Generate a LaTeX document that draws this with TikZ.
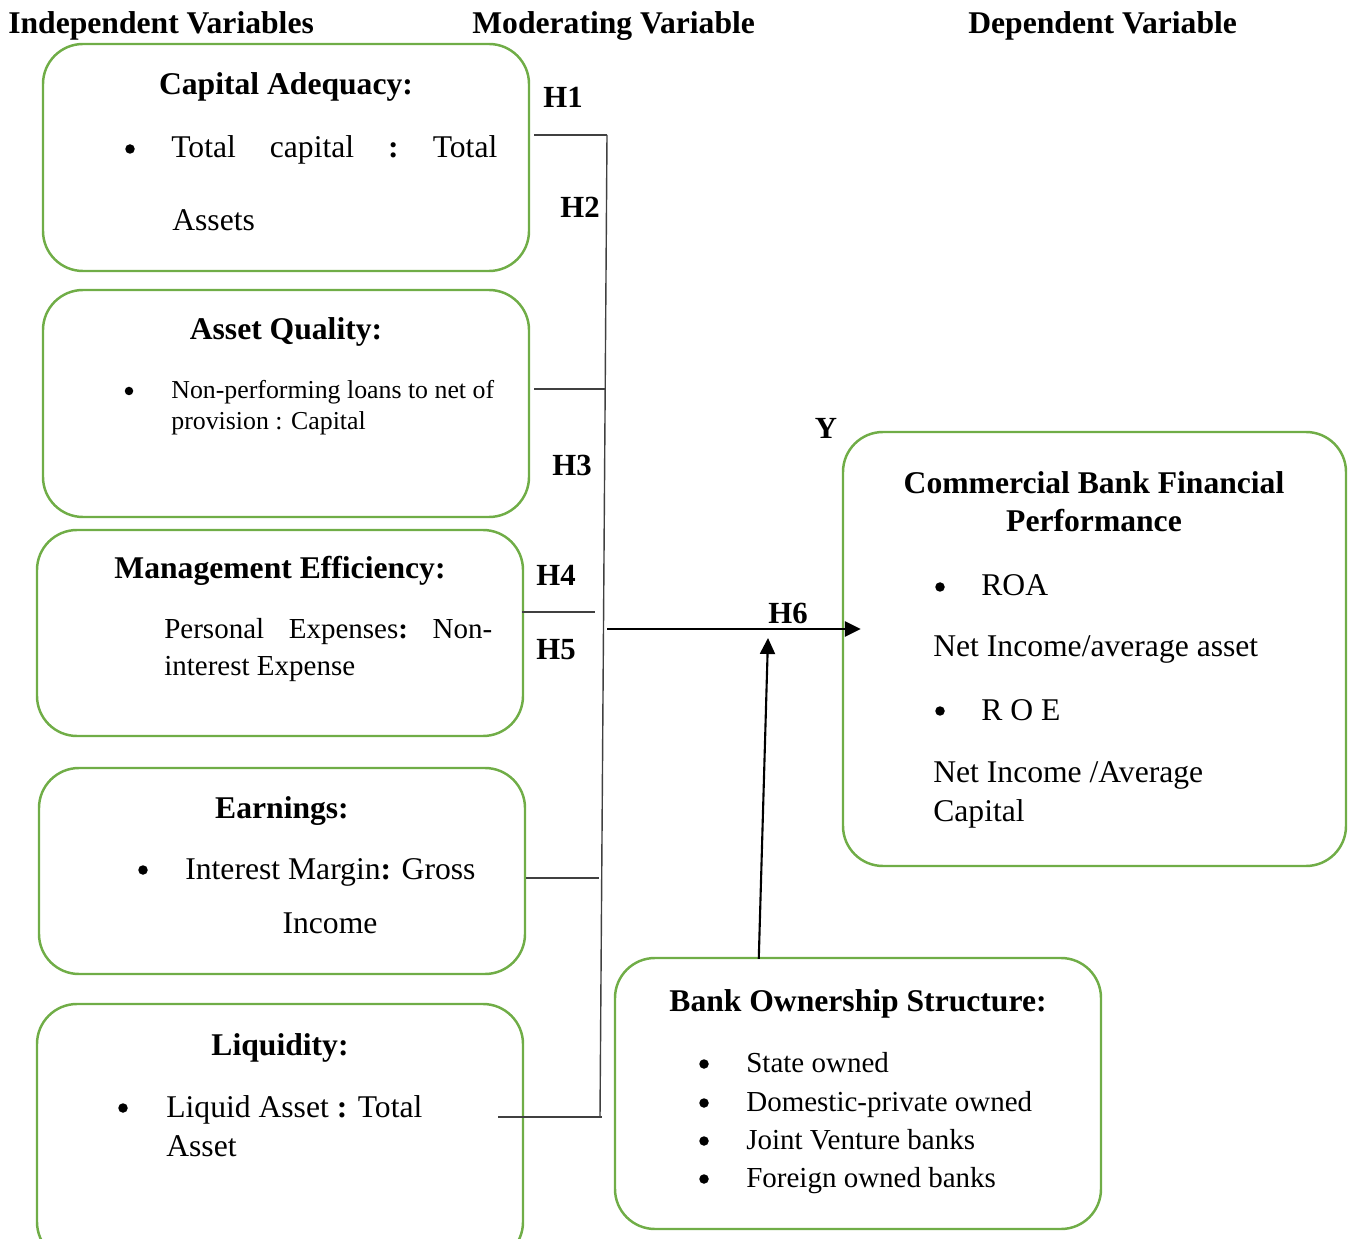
\documentclass[tikz,border=0pt]{standalone}
\usepackage{fontspec}
\setmainfont{Liberation Serif}
\usetikzlibrary{arrows.meta,positioning,fit,calc}
\definecolor{boxgreen}{HTML}{70AD47}
\definecolor{linkgray}{HTML}{404040}
\newcommand{\bigtxt}{\fontsize{18}{22}\selectfont}
\newcommand{\smalltxt}{\fontsize{14.7}{17}\selectfont}
\newcommand{\midtxt}{\fontsize{16.5}{20}\selectfont}

\begin{document}
\begin{tikzpicture}[x=0.02cm, y=-0.02cm,
  every node/.style={inner sep=0pt},
  box/.style={draw=boxgreen, line width=1.4pt, rounded corners=0.8cm, inner sep=0pt},
  ttl/.style={font=\bigtxt\bfseries, anchor=base},
  txt/.style={font=\bigtxt, anchor=base west},
  bul/.style={circle, fill=black, minimum size=0.19cm},
  hyp/.style={font=\fontsize{17.5}{20}\selectfont\bfseries, anchor=base},
  link/.style={linkgray, line width=0.8pt},
  tip/.style={-{Triangle[length=0.32cm, width=0.3cm]}}]
  \clip (0,0) rectangle (1352,1239);

  %% Column headers
  \node[ttl, anchor=base west] (hdind) at (8,34)   {Independent Variables};
  \node[ttl, anchor=base west] (hdmod) at (472,34) {Moderating Variable};
  \node[ttl, anchor=base west] (hddep) at (968,34) {Dependent Variable};

  %% Independent variable boxes
  \node[box, fit={(43,44) (529,271)}]    (capital) {};
  \node[box, fit={(43,290) (529,517)}]   (quality) {};
  \node[box, fit={(37,530) (523,736)}]   (mgmt)    {};
  \node[box, fit={(39,768) (525,974)}]   (earn)    {};
  \node[box, fit={(37,1004) (523,1262)}] (liquid)  {};

  %% Dependent and moderating boxes
  \node[box, fit={(843,432) (1346,866)}] (perf) {};
  \node[box, fit={(615,958) (1101,1229)}] (owner) {};

  %% Capital adequacy
  \node[ttl] (capttl) at (286,95) {Capital Adequacy:};
  \node[bul] (capbul) at (130,149) {};
  \node[txt] (captxta) at (171,158) {\hbox to 6.52cm{Total\hfill capital\hfill\textbf{:}\hfill Total}};
  \node[txt] (captxtb) at (172,231) {Assets};

  %% Asset quality
  \node[ttl] (aqttl) at (286,340) {Asset Quality:};
  \node[bul, minimum size=0.17cm] (aqbul) at (129,391) {};
  \node[txt, font=\smalltxt] (aqtxta) at (171,399) {Non-performing loans to net of};
  \node[txt, font=\smalltxt] (aqtxtb) at (171,430) {provision : Capital};

  %% Management efficiency
  \node[ttl] (mettl) at (280,579) {Management Efficiency:};
  \node[txt, font=\midtxt] (metxta) at (164,639) {\hbox to 6.56cm{Personal\hfill Expenses\textbf{:}\hfill Non-}};
  \node[txt, font=\midtxt] (metxtb) at (164,675) {interest Expense};

  %% Earnings
  \node[ttl] (erttl) at (282,818) {Earnings:};
  \node[bul] (erbul) at (143,870) {};
  \node[txt] (ertxta) at (185,879) {Interest Margin\textbf{:} Gross};
  \node[ttl, font=\bigtxt] (ertxtb) at (330,933) {Income};

  %% Liquidity
  \node[ttl] (lqttl) at (280,1055) {Liquidity:};
  \node[bul] (lqbul) at (123,1108) {};
  \node[txt] (lqtxta) at (166,1117) {Liquid Asset \textbf{:} Total};
  \node[txt] (lqtxtb) at (166,1156) {Asset};

  %% Financial performance
  \node[ttl] (pfttla) at (1094,494) {Commercial Bank Financial};
  \node[ttl] (pfttlb) at (1094,532) {Performance};
  \node[bul] (pfbula) at (940,587) {};
  \node[txt] (roa)    at (981,596) {ROA};
  \node[txt] (roadef) at (933,657) {Net Income/average asset};
  \node[bul] (pfbulb) at (940,711) {};
  \node[txt] (roe)    at (981,720) {R O E};
  \node[txt] (roedfa) at (933,782) {Net Income /Average};
  \node[txt] (roedfb) at (933,821) {Capital};

  %% Ownership structure
  \node[ttl] (owttl) at (858,1011) {Bank Ownership Structure:};
  \node[bul] (owbula) at (704,1064) {};
  \node[bul] (owbulb) at (704,1103) {};
  \node[bul] (owbulc) at (704,1141) {};
  \node[bul] (owbuld) at (704,1179) {};
  \node[txt, font=\midtxt] (owstate)  at (746,1072) {State owned};
  \node[txt, font=\midtxt] (owdomest) at (746,1111) {Domestic-private owned};
  \node[txt, font=\midtxt] (owjoint)  at (746,1149) {Joint Venture banks};
  \node[txt, font=\midtxt] (owforgn)  at (746,1187) {Foreign owned banks};

  %% Hypothesis labels
  \node[hyp] (hone)   at (563,108) {H1};
  \node[hyp] (htwo)   at (580,218) {H2};
  \node[hyp] (hthree) at (572,476) {H3};
  \node[hyp] (hfour)  at (556,586) {H4};
  \node[hyp] (hfive)  at (556,660) {H5};
  \node[hyp] (hsix)   at (788,623) {H6};
  \node[hyp] (ylbl)   at (826,439) {Y};

  %% Bracket joining the independent variables
  \coordinate (sptop) at (607,135);
  \coordinate (spbot) at (600,1117);
  \coordinate (jcap)  at (607,135);
  \coordinate (jqual) at (606,389);
  \coordinate (jmgmt) at (595,612);
  \coordinate (jearn) at (599,878);
  \coordinate (jliq)  at (602,1117);
  \draw[link] (sptop) -- (spbot);
  \draw[link] ($(capital.east |- jcap)+(4,0)$)  -- (jcap);
  \draw[link] ($(quality.east |- jqual)+(4,0)$) -- (jqual);
  \draw[link] ($(mgmt.east |- jmgmt)+(-2,0)$)   -- (jmgmt);
  \draw[link] (earn.east |- jearn)              -- (jearn);
  \draw[link] ($(liquid.east |- jliq)+(-26,0)$) -- (jliq);

  %% Arrows to the dependent variable
  \coordinate (hsixst)  at (607,629);
  \coordinate (hsixtip) at (768,638);
  \draw[tip, line width=1.7pt] (hsixst) -- ($(perf.west |- hsixst)+(19,0)$);
  \draw[tip, line width=1.2pt] ($(owner.north west)+(145,2)$) -- (hsixtip);
\end{tikzpicture}
\end{document}
